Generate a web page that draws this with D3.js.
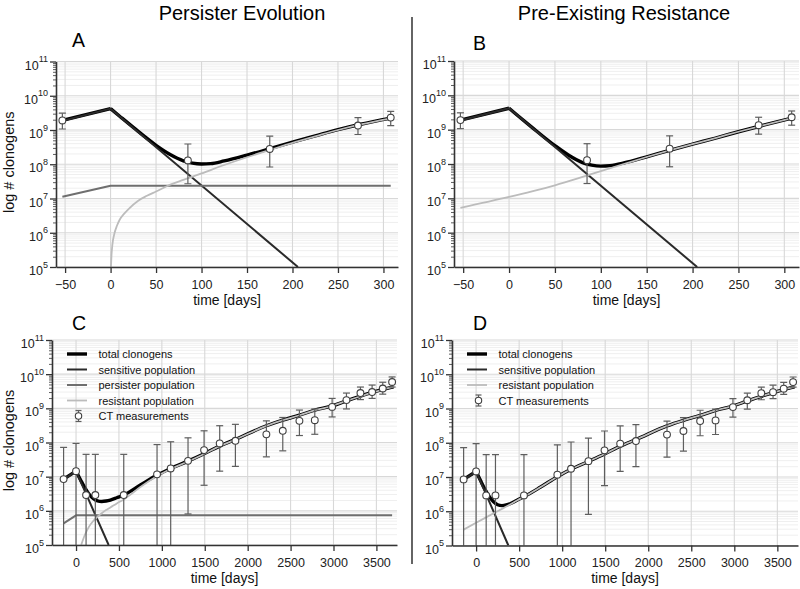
<!DOCTYPE html>
<html><head><meta charset="utf-8">
<script src="https://cdn.jsdelivr.net/npm/d3@7"></script>
<style>body{margin:0;background:#fff} svg{display:block;font-family:"Liberation Sans",Arial,sans-serif}</style>
</head><body><svg id="c" width="800" height="589"></svg>
<script>
// ---------------- data ----------------
const titles = ["Persister Evolution", "Pre-Existing Resistance"];
const panelLetters = ["A", "B", "C", "D"];
const xTicksAB = [-50, 0, 50, 100, 150, 200, 250, 300];
const xTicksCD = [0, 500, 1000, 1500, 2000, 2500, 3000, 3500];
const yTickExponents = [5, 6, 7, 8, 9, 10, 11];
const legendLabelsC = ["total clonogens", "sensitive population", "persister population", "resistant population", "CT measurements"];
const legendLabelsD = ["total clonogens", "sensitive population", "resistant population", "CT measurements"];

// CT measurements (panels A, B)
const ctTimesAB  = [-53, 85, 175, 272, 308];
const ctValuesAB = [1.9e9, 1.29e8, 2.8e8, 1.35e9, 2.3e9];
const ctLowAB    = [1.07e9, 2.7e7, 8.3e7, 7.4e8, 1.35e9];
const ctHighAB   = [3.1e9, 3.9e8, 6.6e8, 2.3e9, 3.5e9];

// CT measurements (panels C, D)
const ctTimesCD  = [-145, 0, 117, 225, 556, 944, 1103, 1305, 1492, 1674, 1857, 2218, 2409, 2603, 2782, 2984, 3151, 3314, 3450, 3574, 3683];
const ctValuesCD = [8.5e6, 1.45e7, 2.9e6, 2.9e6, 2.9e6, 1.17e7, 1.74e7, 2.9e7, 6e7, 9.4e7, 1.12e8, 1.73e8, 2.2e8, 4.3e8, 4.5e8, 1.1e9, 1.74e9, 2.8e9, 3.0e9, 3.8e9, 5.9e9];
const ctLowCD    = [1e4, 1e4, 1e4, 1e4, 1e4, 1e4, 1e4, 8.1e5, 5.6e6, 1.45e7, 2.0e7, 3.8e7, 5.7e7, 1.6e8, 1.74e8, 5.6e8, 9.6e8, 1.8e9, 1.95e9, 2.6e9, 4.2e9];
const ctHighCD   = [7.2e7, 9.4e7, 4.5e7, 4.5e7, 4.5e7, 8.7e7, 1.05e8, 1.37e8, 2.2e8, 3.1e8, 3.4e8, 4.3e8, 5.4e8, 8.9e8, 9.6e8, 1.95e9, 2.8e9, 4.2e9, 4.8e9, 5.8e9, 8.3e9];

// Panel A model curves [time, clonogens]
const totalPreA  = [[-53, 1.9e9], [0, 4.2e9]];
const totalPostA = [[0, 4.2e9], [10, 2.53e9], [25, 1.19e9], [50, 3.58e8], [65, 1.96e8], [80, 1.26e8], [90, 1.08e8], [100, 1.02e8], [110, 1.04e8], [125, 1.25e8], [150, 1.85e8], [175, 2.85e8], [200, 4.44e8], [225, 6.74e8], [250, 1.02e9], [275, 1.47e9], [308, 2.22e9]];
const sensitiveA = [[-53, 1.85e9], [0, 4.2e9], [206, 1e5]];
const persisterA = [[-53, 1.12e7], [0, 2.35e7], [308, 2.35e7]];
const resistantA = [[0.4, 1e5], [1, 2.2e5], [2, 4.5e5], [4, 9e5], [7, 1.6e6], [10, 2.4e6], [15, 3.6e6], [20, 5e6], [30, 8.5e6], [40, 1.2e7], [50, 1.6e7], [65, 2.5e7], [80, 3.5e7], [100, 5.4e7], [125, 9.5e7], [150, 1.6e8], [175, 2.6e8], [200, 4.2e8], [225, 6.5e8], [250, 1.0e9], [275, 1.45e9], [308, 2.2e9]];

// Panel B
const totalPreB  = [[-53, 1.9e9], [0, 4.2e9]];
const totalPostB = [[0, 4.2e9], [10, 2.51e9], [25, 1.17e9], [50, 3.43e8], [65, 1.8e8], [80, 1.1e8], [90, 9.3e7], [100, 8.7e7], [110, 9.0e7], [125, 1.07e8], [150, 1.62e8], [175, 2.5e8], [200, 3.8e8], [225, 5.7e8], [250, 8.7e8], [275, 1.3e9], [308, 2.15e9]];
const sensitiveB = [[-53, 1.85e9], [0, 4.2e9], [205, 1e5]];
const resistantB = [[-53, 5.3e6], [0, 1.1e7], [25, 1.6e7], [50, 2.4e7], [75, 3.8e7], [100, 6.2e7], [125, 1.0e8], [150, 1.6e8], [175, 2.5e8], [200, 3.8e8], [225, 5.7e8], [250, 8.7e8], [275, 1.3e9], [308, 2.15e9]];

// Panel C
const totalPreC  = [[-145, 8.5e6], [0, 1.45e7]];
const totalPostC = [[0, 1.45e7], [50, 8.3e6], [100, 4.83e6], [150, 3.11e6], [200, 2.3e6], [250, 1.96e6], [300, 1.88e6], [350, 1.94e6], [400, 2.07e6], [475, 2.42e6], [556, 2.9e6], [750, 5.7e6], [944, 1.11e7], [1103, 1.74e7], [1305, 2.85e7], [1492, 4.68e7], [1674, 7.85e7], [1857, 1.23e8], [2218, 3.09e8], [2409, 4.52e8], [2603, 6.3e8], [2782, 8.85e8], [2984, 1.18e9], [3151, 1.66e9], [3314, 2.28e9], [3450, 2.92e9], [3574, 3.57e9], [3700, 4.27e9]];
const sensitiveC = [[-145, 8.2e6], [0, 1.45e7], [380, 1e5]];
const persisterC = [[-145, 4.3e5], [0, 7.4e5], [3683, 7.4e5]];
const resistantC = [[60, 1e5], [100, 1.9e5], [150, 3.4e5], [200, 5.0e5], [250, 6.7e5], [300, 8.5e5], [350, 1.05e6], [400, 1.25e6], [475, 1.65e6], [556, 2.15e6], [750, 4.95e6], [944, 1.04e7], [1103, 1.67e7], [1305, 2.78e7], [1492, 4.6e7], [1674, 7.8e7], [1857, 1.22e8], [2218, 3.08e8], [2409, 4.5e8], [2603, 6.28e8], [2782, 8.8e8], [2984, 1.17e9], [3151, 1.65e9], [3314, 2.26e9], [3450, 2.9e9], [3574, 3.55e9], [3700, 4.25e9]];

// Panel D
const totalPreD  = [[-145, 8.5e6], [0, 1.45e7]];
const totalPostD = [[0, 1.45e7], [50, 8.0e6], [100, 4.5e6], [150, 2.77e6], [200, 1.92e6], [250, 1.55e6], [300, 1.46e6], [350, 1.52e6], [400, 1.68e6], [475, 2.1e6], [556, 2.65e6], [750, 5.1e6], [944, 1.02e7], [1103, 1.68e7], [1305, 2.85e7], [1492, 4.7e7], [1674, 7.9e7], [1857, 1.24e8], [2218, 3.1e8], [2409, 4.5e8], [2603, 6.3e8], [2782, 8.8e8], [2984, 1.18e9], [3151, 1.66e9], [3314, 2.27e9], [3450, 2.92e9], [3574, 3.57e9], [3700, 4.26e9]];
const sensitiveD = [[-145, 8.2e6], [0, 1.45e7], [375, 1e5]];
const resistantD = [[-145, 2.9e5], [0, 4.6e5], [100, 6.3e5], [225, 9.3e5], [300, 1.17e6], [400, 1.6e6], [475, 2.05e6], [556, 2.63e6], [750, 5.1e6], [944, 1.02e7], [1103, 1.68e7], [1305, 2.85e7], [1492, 4.7e7], [1674, 7.9e7], [1857, 1.24e8], [2218, 3.1e8], [2409, 4.5e8], [2603, 6.3e8], [2782, 8.8e8], [2984, 1.18e9], [3151, 1.66e9], [3314, 2.27e9], [3450, 2.92e9], [3574, 3.57e9], [3700, 4.26e9]];

// ---------------- drawing ----------------
const svg = d3.select("#c");
const defs = svg.append("defs");
const STY = {
  total: {stroke: "#000", w: 3.4},
  sensitive: {stroke: "#2a2a2a", w: 2},
  persister: {stroke: "#6f6f6f", w: 2},
  resistant: {stroke: "#bcbcbc", w: 1.8}
};
const zip = (t, v, lo, hi) => t.map((d, i) => ({t: d, v: v[i], lo: lo[i], hi: hi[i]}));

const panels = [
  {id: "A", x0: 56, x1: 398, y0: 61.5, y1: 267, xdom: [-60, 316], xticks: xTicksAB, letterX: 72, letterY: 47, ylabel: true,
   totalPre: totalPreA, totalPost: totalPostA, sensitive: sensitiveA, persister: persisterA, resistant: resistantA,
   ct: zip(ctTimesAB, ctValuesAB, ctLowAB, ctHighAB)},
  {id: "B", x0: 454, x1: 799, y0: 61, y1: 267, xdom: [-60, 316], xticks: xTicksAB, letterX: 473, letterY: 50, ylabel: false,
   totalPre: totalPreB, totalPost: totalPostB, sensitive: sensitiveB, persister: null, resistant: resistantB,
   ct: zip(ctTimesAB, ctValuesAB, ctLowAB, ctHighAB)},
  {id: "C", x0: 52, x1: 397, y0: 340, y1: 545, xdom: [-280, 3740], xticks: xTicksCD, letterX: 72, letterY: 330, ylabel: true,
   totalPre: totalPreC, totalPost: totalPostC, sensitive: sensitiveC, persister: persisterC, resistant: resistantC,
   ct: zip(ctTimesCD, ctValuesCD, ctLowCD, ctHighCD), legend: legendLabelsC},
  {id: "D", x0: 452, x1: 798, y0: 340, y1: 545.5, xdom: [-280, 3740], xticks: xTicksCD, letterX: 473, letterY: 330, ylabel: false,
   totalPre: totalPreD, totalPost: totalPostD, sensitive: sensitiveD, persister: null, resistant: resistantD,
   ct: zip(ctTimesCD, ctValuesCD, ctLowCD, ctHighCD), legend: legendLabelsD}
];

function drawPanel(p) {
  const x = d3.scaleLinear().domain(p.xdom).range([p.x0, p.x1]);
  const y = d3.scaleLog().domain([1e5, 1e11]).range([p.y1, p.y0]);
  const g = svg.append("g");
  const clipId = "clip" + p.id;
  defs.append("clipPath").attr("id", clipId).append("rect")
    .attr("x", p.x0).attr("y", p.y0).attr("width", p.x1 - p.x0).attr("height", p.y1 - p.y0);

  const majors = yTickExponents.map(e => Math.pow(10, e));
  const minors = [];
  yTickExponents.slice(0, -1).forEach(e => { for (let m = 2; m <= 9; m++) minors.push(m * Math.pow(10, e)); });

  // grid
  g.append("g").selectAll("line").data(minors).join("line")
    .attr("x1", p.x0).attr("x2", p.x1).attr("y1", d => y(d)).attr("y2", d => y(d))
    .attr("stroke", "#efefef").attr("stroke-width", 1);
  g.append("g").selectAll("line").data(majors).join("line")
    .attr("x1", p.x0).attr("x2", p.x1).attr("y1", d => y(d)).attr("y2", d => y(d))
    .attr("stroke", "#d8d8d8").attr("stroke-width", 1.1);
  g.append("g").selectAll("line").data(p.xticks).join("line")
    .attr("x1", d => x(d)).attr("x2", d => x(d)).attr("y1", p.y0).attr("y2", p.y1)
    .attr("stroke", "#d8d8d8").attr("stroke-width", 1.1);

  // curves
  const cg = g.append("g").attr("clip-path", `url(#${clipId})`);
  const lin = d3.line().x(d => x(d[0])).y(d => y(d[1])).curve(d3.curveLinear);
  const smooth = d3.line().x(d => x(d[0])).y(d => y(d[1])).curve(d3.curveMonotoneX);
  const path = (data, gen, s) => cg.append("path").datum(data).attr("d", gen)
    .attr("fill", "none").attr("stroke", s.stroke).attr("stroke-width", s.w)
    .attr("stroke-linejoin", "round").attr("stroke-linecap", "butt");
  path(p.totalPre, lin, STY.total);
  path(p.totalPost, smooth, STY.total);
  path(p.sensitive, lin, STY.sensitive);
  if (p.persister) path(p.persister, lin, STY.persister);
  path(p.resistant, smooth, STY.resistant);

  // error bars
  const eb = cg.append("g").attr("stroke", "#5e5e5e").attr("stroke-width", 1.2);
  p.ct.forEach(d => {
    eb.append("line").attr("x1", x(d.t)).attr("x2", x(d.t)).attr("y1", y(d.lo)).attr("y2", y(d.hi));
    eb.append("line").attr("x1", x(d.t) - 3.5).attr("x2", x(d.t) + 3.5).attr("y1", y(d.hi)).attr("y2", y(d.hi));
    eb.append("line").attr("x1", x(d.t) - 3.5).attr("x2", x(d.t) + 3.5).attr("y1", y(d.lo)).attr("y2", y(d.lo));
  });
  g.append("g").selectAll("circle").data(p.ct).join("circle")
    .attr("cx", d => x(d.t)).attr("cy", d => y(d.v)).attr("r", 3.4)
    .attr("fill", "#fff").attr("stroke", "#404040").attr("stroke-width", 1.1);

  // axes
  const yMinor = d3.axisLeft(y).tickValues(minors).tickSize(3).tickFormat("").tickSizeOuter(0);
  const gyM = g.append("g").attr("transform", `translate(${p.x0},0)`).call(yMinor);
  gyM.select(".domain").remove();
  gyM.selectAll("line").attr("stroke", "#333").attr("stroke-width", 0.8);

  const yAxis = d3.axisLeft(y).tickValues(majors).tickSize(6).tickFormat("").tickSizeOuter(0);
  const gy = g.append("g").attr("transform", `translate(${p.x0},0)`).call(yAxis);
  gy.select(".domain").attr("stroke", "#333").attr("stroke-width", 1.6);
  gy.selectAll(".tick line").attr("stroke", "#333").attr("stroke-width", 1.3);
  gy.selectAll(".tick text").remove();
  gy.selectAll(".tick").each(function (d) {
    const t = d3.select(this).append("text").attr("x", -8).attr("y", 7.5)
      .attr("text-anchor", "end").attr("fill", "#222").style("font-size", "12.5px");
    t.append("tspan").text("10");
    t.append("tspan").attr("dy", -7.5).style("font-size", "9px").text(Math.round(Math.log10(d)));
  });

  const xAxis = d3.axisBottom(x).tickValues(p.xticks).tickSize(6).tickSizeOuter(0).tickFormat(d3.format("d"));
  const gx = g.append("g").attr("transform", `translate(0,${p.y1})`).call(xAxis);
  gx.select(".domain").attr("stroke", "#333").attr("stroke-width", 1.6);
  gx.selectAll(".tick line").attr("stroke", "#333").attr("stroke-width", 1.3);
  gx.selectAll(".tick text").attr("y", 13).attr("fill", "#222")
    .style("font-size", "12.5px").style("font-family", '"Liberation Sans",Arial,sans-serif');
  gy.selectAll("text").style("font-family", '"Liberation Sans",Arial,sans-serif');

  // labels
  svg.append("text").attr("x", (p.x0 + p.x1) / 2).attr("y", p.y1 + 37.5).attr("text-anchor", "middle")
    .style("font-size", "14px").attr("fill", "#111").text("time [days]");
  if (p.ylabel) {
    svg.append("text").attr("transform", `translate(14,${(p.y0 + p.y1) / 2 - 2}) rotate(-90)`)
      .attr("text-anchor", "middle").style("font-size", "14.5px").attr("fill", "#111").text("log # clonogens");
  }
  svg.append("text").attr("x", p.letterX).attr("y", p.letterY).style("font-size", "19.5px")
    .attr("fill", "#000").text(panelLetters[panelLetters.indexOf(p.id)]);

  // legend
  if (p.legend) {
    const lx = p.x0 + 15, tx = p.x0 + 46.5, ly0 = 354, dy = 15.5;
    const styles = p.legend.length === 5 ? [STY.total, STY.sensitive, STY.persister, STY.resistant]
                                         : [STY.total, STY.sensitive, STY.resistant];
    p.legend.forEach((lab, i) => {
      const yy = ly0 + i * dy;
      if (i < styles.length) {
        g.append("line").attr("x1", lx).attr("x2", lx + 20).attr("y1", yy).attr("y2", yy)
          .attr("stroke", styles[i].stroke).attr("stroke-width", styles[i].w);
      } else {
        const cx = lx + 11.5;
        g.append("line").attr("x1", cx).attr("x2", cx).attr("y1", yy - 5.5).attr("y2", yy + 5.5).attr("stroke", "#5e5e5e").attr("stroke-width", 1.2);
        g.append("line").attr("x1", cx - 3).attr("x2", cx + 3).attr("y1", yy - 5.5).attr("y2", yy - 5.5).attr("stroke", "#5e5e5e").attr("stroke-width", 1.2);
        g.append("line").attr("x1", cx - 3).attr("x2", cx + 3).attr("y1", yy + 5.5).attr("y2", yy + 5.5).attr("stroke", "#5e5e5e").attr("stroke-width", 1.2);
        g.append("circle").attr("cx", cx).attr("cy", yy).attr("r", 3.2).attr("fill", "#fff").attr("stroke", "#404040").attr("stroke-width", 1.1);
      }
      g.append("text").attr("x", tx).attr("y", yy + 4).style("font-size", "11px").attr("fill", "#111").text(lab);
    });
  }
}

panels.forEach(drawPanel);

// column titles and separator
svg.append("text").attr("x", 242).attr("y", 20).attr("text-anchor", "middle").style("font-size", "20px").attr("fill", "#000").text(titles[0]);
svg.append("text").attr("x", 624).attr("y", 20).attr("text-anchor", "middle").style("font-size", "20px").attr("fill", "#000").text(titles[1]);
svg.append("line").attr("x1", 412).attr("x2", 412).attr("y1", 17).attr("y2", 564).attr("stroke", "#111").attr("stroke-width", 1.3);
</script>
</body></html>
